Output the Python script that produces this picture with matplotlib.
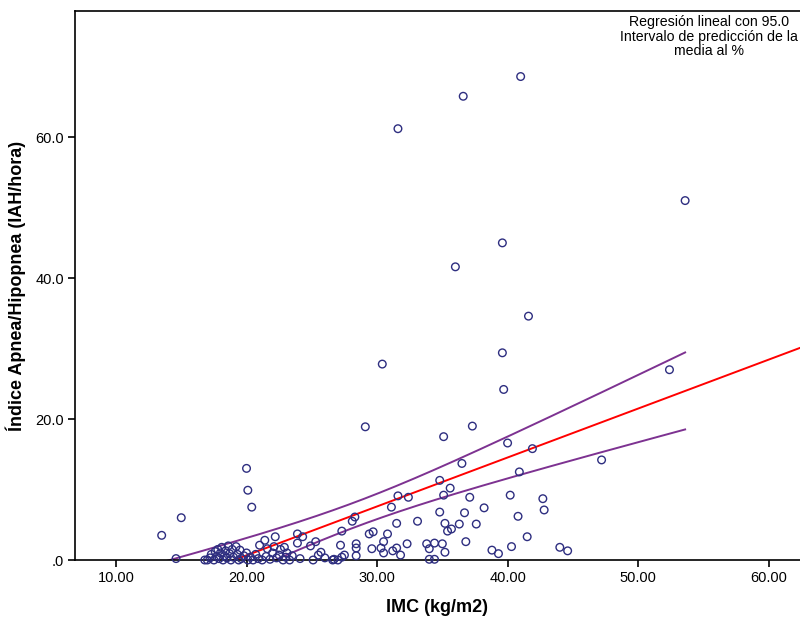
import numpy as np
import matplotlib
matplotlib.use("Agg")
from matplotlib import pyplot as plt

plt.rcParams['font.family'] = ['Liberation Sans', 'DejaVu Sans']

# IMC (kg/m2) and IAH (events/hour)
imc = [
    13.5, 15.0, 14.6, 20.0, 20.1, 20.4,
    16.8, 17.0, 17.2, 17.3, 17.5, 17.6, 17.7, 17.8, 17.9, 18.0, 18.1, 18.2, 18.3, 18.4,
    18.5, 18.6, 18.7, 18.8, 18.9, 19.0, 19.2, 19.3, 19.4, 19.5, 19.6, 19.8, 20.0, 20.1,
    20.3, 20.5, 20.7, 20.9, 21.0, 21.2, 21.4, 21.5, 21.6, 21.8, 22.0, 22.1, 22.2, 22.3,
    22.5, 22.6, 22.8, 22.9, 23.0, 23.1, 23.3, 23.5, 23.9, 23.9, 24.3, 24.1, 24.9, 25.1,
    25.3, 25.5, 25.7, 26.0, 26.6,
    26.7, 27.0, 27.3, 27.5, 27.2, 27.3, 28.1, 28.3, 28.4, 28.4, 28.4,
    29.1, 30.4, 31.6, 36.6, 41.0, 36.0, 39.6, 41.6, 39.6, 39.7, 53.6, 52.4, 47.2,
    35.1, 37.3, 40.0, 41.9, 36.5, 40.9, 34.8, 35.6, 35.1, 31.6, 32.4, 37.1, 40.2,
    42.7, 42.8, 31.1, 38.2, 34.8, 36.7, 40.8, 31.5, 33.1, 35.2, 36.3, 37.6, 35.4,
    35.7, 29.4, 29.7, 30.8, 41.5, 30.5, 36.8, 32.3, 33.8, 34.4, 35.0, 29.6, 30.3,
    30.5, 31.2, 31.5, 31.8, 34.0, 35.2, 38.8, 39.3, 40.3, 44.0, 44.6, 34.0, 34.4,
]
iah = [
    3.5, 6.0, 0.2, 13.0, 9.9, 7.5,
    0.0, 0.0, 0.3, 0.8, 0.0, 1.2, 0.5, 1.5, 0.2, 1.0, 1.8, 0.0, 0.6, 1.3,
    0.3, 2.0, 0.9, 0.0, 1.5, 0.4, 1.9, 0.8, 0.0, 1.4, 0.2, 0.6, 1.0, 0.0,
    0.4, 0.0, 0.8, 0.2, 2.1, 0.0, 2.8, 0.5, 1.6, 0.1, 1.0, 1.9, 3.3, 0.3,
    0.7, 1.5, 0.0, 1.8, 0.4, 1.0, 0.0, 0.6, 3.7, 2.4, 3.3, 0.2, 2.0, 0.0,
    2.6, 0.7, 1.1, 0.3, 0.0,
    0.1, 0.0, 0.4, 0.7, 2.1, 4.1, 5.5, 6.1, 2.3, 1.7, 0.6,
    18.9, 27.8, 61.2, 65.8, 68.6, 41.6, 45.0, 34.6, 29.4, 24.2, 51.0, 27.0, 14.2,
    17.5, 19.0, 16.6, 15.8, 13.7, 12.5, 11.3, 10.2, 9.2, 9.1, 8.9, 8.9, 9.2,
    8.7, 7.1, 7.5, 7.4, 6.8, 6.7, 6.2, 5.2, 5.5, 5.2, 5.1, 5.1, 4.1,
    4.4, 3.7, 4.0, 3.7, 3.3, 2.6, 2.6, 2.3, 2.3, 2.4, 2.3, 1.6, 1.7,
    1.0, 1.3, 1.7, 0.7, 1.6, 1.1, 1.4, 0.9, 1.9, 1.8, 1.3, 0.1, 0.1,
]

xticks = [10, 20, 30, 40, 50, 60]
yticks = [0, 20, 40, 60]

x = np.array(imc)
y = np.array(iah)

# least squares fit + 95% interval for the mean
n = len(x)
b1, b0 = np.polyfit(x, y, 1)
resid = y - (b0 + b1 * x)
s = np.sqrt(np.sum(resid ** 2) / (n - 2))
sxx = np.sum((x - x.mean()) ** 2)
t975 = 1.976

fig = plt.figure(figsize=(8, 6.18), dpi=100)
ax = fig.add_axes([75 / 800, 58 / 618, 725 / 800, 549 / 618])
ax.set_xlim(6.86, 62.4)
ax.set_ylim(0, 77.9)

xl = np.linspace(6.86, 62.4, 200)
ax.plot(xl, b0 + b1 * xl, color='#ff0000', lw=1.4, zorder=2)

xb = np.linspace(x.min(), x.max(), 200)
se = s * np.sqrt(1 / n + (xb - x.mean()) ** 2 / sxx)
fit = b0 + b1 * xb
ax.plot(xb, fit + t975 * se, color='#7d3291', lw=1.4, zorder=2)
ax.plot(xb, fit - t975 * se, color='#7d3291', lw=1.4, zorder=2)

ax.scatter(x, y, s=30, facecolors='none', edgecolors='#2e2e80', linewidths=1.0,
           zorder=3, clip_on=False)

ax.set_xticks(xticks)
ax.set_xticklabels(['%.2f' % v for v in xticks])
ax.set_yticks(yticks)
ax.set_yticklabels(['.0'] + ['%.1f' % v for v in yticks[1:]])
ax.tick_params(direction='out', length=5, width=1.2, labelsize=10.5, colors='black', pad=3)
for sp in ['left', 'bottom', 'top']:
    ax.spines[sp].set_linewidth(1.2)
ax.spines['right'].set_visible(False)

ax.set_xlabel('IMC (kg/m2)', fontsize=13, fontweight='bold', labelpad=10)
ax.set_ylabel('Índice Apnea/Hipopnea (IAH/hora)', fontsize=13, fontweight='bold', labelpad=7)

fig.text(709 / 800, 1 - 15 / 618,
         'Regresión lineal con 95.0\nIntervalo de predicción de la\nmedia al %',
         ha='center', va='top', fontsize=10.2, linespacing=1.05)

fig.savefig('out.png', dpi=100)
